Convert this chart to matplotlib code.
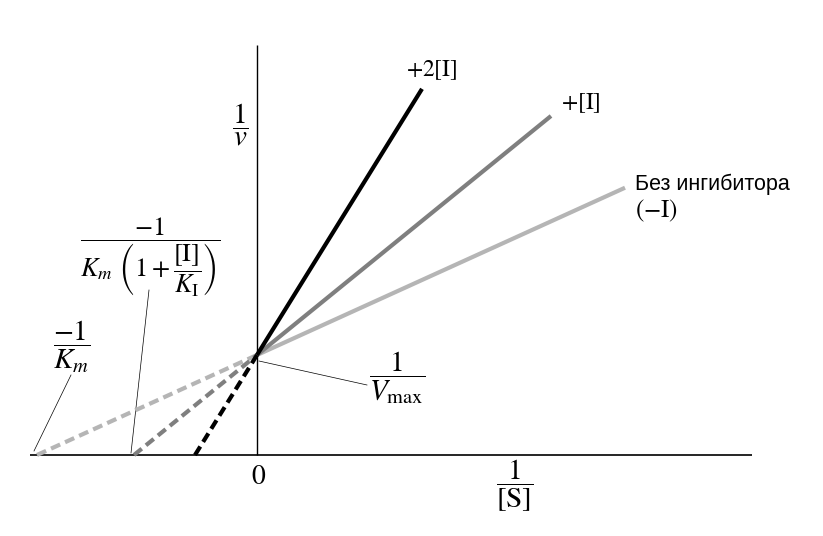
import matplotlib
matplotlib.use('Agg')
import matplotlib.pyplot as plt

plt.rcParams['mathtext.fontset'] = 'stix'
plt.rcParams['font.family'] = ['Liberation Sans', 'DejaVu Sans']

# Lineweaver-Burk lines: 1/v = slope * (1/[S]) + 1/Vmax
inv_vmax   = 1.0
x_icept    = [-2.20, -1.23, -0.62]      # -1/Km_app for each line
x_end      = [3.68, 2.94, 1.65]         # where each solid line stops
colors     = ['#b5b5b5', '#7f7f7f', '#000000']
names      = ['none', '+[I]', '+2[I]']

fig = plt.figure(figsize=(8.23, 5.36), dpi=100)
ax = fig.add_axes([0, 0, 1, 1])
ax.set_xlim(-2.57, 5.66)
ax.set_ylim(-0.81, 4.55)
ax.axis('off')

# axes
ax.plot([-2.27, 4.95], [0, 0], color='black', lw=1.2, solid_capstyle='butt')
ax.plot([0, 0], [0, 4.10], color='black', lw=1.0, solid_capstyle='butt')

for xi, xe, c in zip(x_icept, x_end, colors):
  slope = -inv_vmax / xi
  ax.plot([0, xe], [inv_vmax, inv_vmax + slope*xe], color=c, lw=3.0,
          solid_capstyle='butt', zorder=3)
  ax.plot([xi, 0], [0, inv_vmax], color=c, lw=3.0, linestyle=(0, (2.4, 1.3)),
          dash_capstyle='butt', zorder=3)

# leader lines
ax.plot([-1.86, x_icept[0] - 0.03], [0.80, 0.04], color='black', lw=0.5)
ax.plot([-1.08, x_icept[1] - 0.03], [1.65, 0.02], color='black', lw=0.5)
ax.plot([0.02, 1.10], [0.94, 0.70], color='black', lw=0.5)

fs = 17
ffs = 21
ax.text(-0.17, 3.30, r'$\dfrac{1}{v}$', fontsize=ffs, ha='center', va='center')
ax.text(1.75, 3.85, r'$+2[\mathrm{I}]$', fontsize=fs, ha='center', va='center')
ax.text(3.24, 3.52, r'$+[\mathrm{I}]$', fontsize=fs, ha='center', va='center')
ax.text(3.78, 2.71, 'Без ингибитора', fontsize=15.5, ha='left', va='center')
ax.text(3.78, 2.44, r'$(-\mathrm{I})$', fontsize=18, ha='left', va='center')
ax.text(-1.07, 1.98,
        r'$\dfrac{-1}{K_m\ \left(1+\dfrac{[\mathrm{I}]}{K_{\mathrm{I}}}\right)}$',
        fontsize=19, ha='center', va='center')
ax.text(-1.85, 1.08, r'$\dfrac{-1}{K_m}$', fontsize=ffs, ha='center', va='center')
ax.text(1.40, 0.77, r'$\dfrac{1}{V_{\mathrm{max}}}$', fontsize=ffs, ha='center', va='center')
ax.text(0.02, -0.22, r'$0$', fontsize=20, ha='center', va='center')
ax.text(2.58, -0.30, r'$\dfrac{1}{[\mathrm{S}]}$', fontsize=ffs, ha='center', va='center')

fig.savefig('out.png', dpi=100)
